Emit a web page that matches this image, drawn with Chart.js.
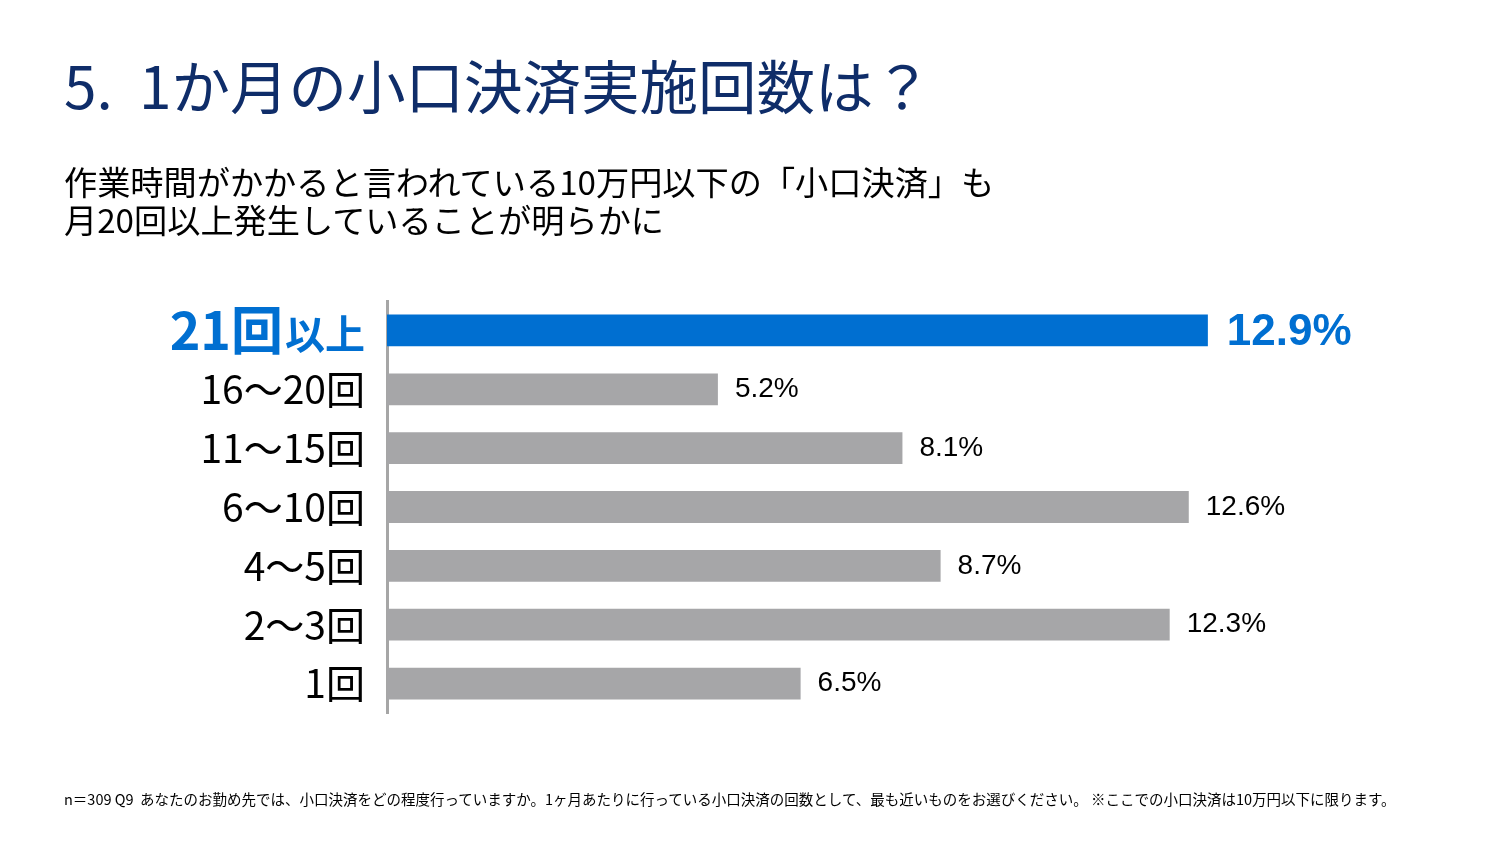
<!DOCTYPE html>
<html><head><meta charset="utf-8">
<script src="https://cdn.jsdelivr.net/npm/chart.js@4"></script>
<style>
html,body{margin:0;padding:0;background:#fff;width:1500px;height:844px;overflow:hidden;}
#wrap{position:absolute;left:0;top:0;width:1500px;height:844px;}
.t{position:absolute;white-space:nowrap;font-family:"Noto Sans CJK JP","Noto Sans",sans-serif;transform-origin:left top;}
#title{left:64px;top:55px;font-size:58.5px;color:#0F2D69;line-height:1;}
#sub{left:64px;top:162px;font-size:33.2px;color:#000;line-height:38px;}
#foot{left:64px;top:792px;font-size:14.5px;color:#000;line-height:1;}
</style></head>
<body>
<div id="wrap"><canvas id="c" width="1500" height="844"></canvas></div>
<div class="t" id="title">5.&nbsp; 1か月の小口決済実施回数は？</div>
<div class="t" id="sub">作業時間がかかると言われている10万円以下の「小口決済」も<br>月20回以上発生していることが明らかに</div>
<div class="t" id="foot">n＝309 Q9&nbsp; あなたのお勤め先では、小口決済をどの程度行っていますか。1ヶ月あたりに行っている小口決済の回数として、最も近いものをお選びください。 ※ここでの小口決済は10万円以下に限ります。</div>
<script>
const categories = ["21回以上","16〜20回","11〜15回","6〜10回","4〜5回","2〜3回","1回"];
const values = [12.9, 5.2, 8.1, 12.6, 8.7, 12.3, 6.5];
const valueLabels = ["12.9%","5.2%","8.1%","12.6%","8.7%","12.3%","6.5%"];
const BLUE = "#006FD1", GRAY = "#A6A6A8";

const labelPlugin = {
  id: "labels",
  afterDraw(chart) {
    const ctx = chart.ctx, y = chart.scales.y, x = chart.scales.x;
    const left = chart.chartArea.left;
    ctx.save();
    ctx.textBaseline = "middle";
    categories.forEach((cat, i) => {
      const py = y.getPixelForValue(i);
      ctx.textAlign = "right";
      if (i === 0) {
        ctx.fillStyle = BLUE;
        ctx.font = "bold 40px 'Noto Sans CJK JP'";
        const tail = "以上";
        const w2 = ctx.measureText(tail).width;
        ctx.fillText(tail, left - 22, py + 3);
        ctx.font = "bold 52px 'Noto Sans CJK JP'";
        ctx.fillText("21回", left - 22 - w2 - 2, py);
      } else {
        ctx.fillStyle = "#000";
        ctx.font = "39px 'Noto Sans CJK JP'";
        ctx.fillText(cat, left - 22, py);
      }
      const px = x.getPixelForValue(values[i]);
      ctx.textAlign = "left";
      if (i === 0) {
        ctx.fillStyle = BLUE;
        ctx.font = "bold 44px 'Liberation Sans', Arial, sans-serif";
        ctx.fillText(valueLabels[i], px + 19, py + 2);
      } else {
        ctx.fillStyle = "#000";
        ctx.font = "28px 'Liberation Sans', Arial, sans-serif";
        ctx.fillText(valueLabels[i], px + 17, py);
      }
    });
    ctx.restore();
  }
};

new Chart(document.getElementById("c"), {
  type: "bar",
  data: {
    labels: categories,
    datasets: [{
      data: values,
      backgroundColor: values.map((v, i) => i === 0 ? BLUE : GRAY),
      borderWidth: 0,
      categoryPercentage: 1,
      barPercentage: 0.54
    }]
  },
  options: {
    indexAxis: "y",
    responsive: false,
    animation: false,
    devicePixelRatio: 1,
    layout: { padding: { left: 387, right: 158.5, top: 301, bottom: 131 } },
    plugins: { legend: { display: false }, tooltip: { enabled: false } },
    scales: {
      x: { min: 0, max: 15, display: false, grid: { display: false } },
      y: {
        grid: { display: false, drawTicks: false },
        border: { display: true, color: "#A6A6A6", width: 3 },
        ticks: { display: false }
      }
    }
  },
  plugins: [labelPlugin]
});
</script>
</body></html>
